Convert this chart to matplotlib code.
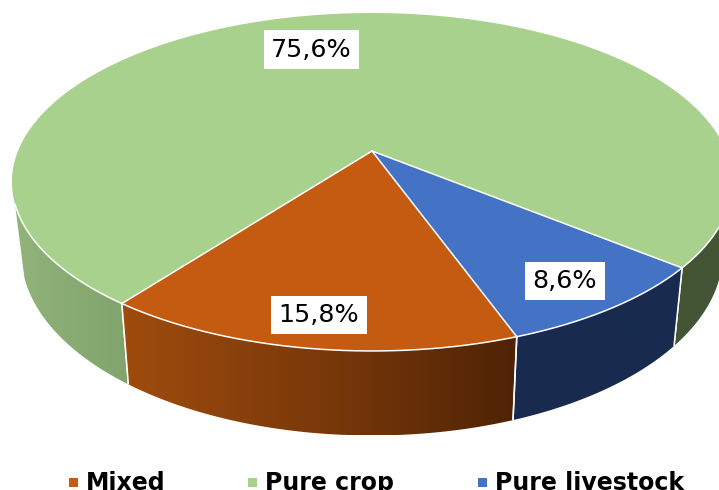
import numpy as np
import matplotlib
matplotlib.use('Agg')
import matplotlib.pyplot as plt
from matplotlib.colors import LinearSegmentedColormap
from matplotlib.patches import Polygon, Rectangle

# slice data, in the order the slices go round
categories = ['Mixed', 'Pure livestock', 'Pure crop']
shares = [15.8, 8.6, 75.6]
share_labels = ['15,8%', '8,6%', '75,6%']
legend_order = ['Mixed', 'Pure crop', 'Pure livestock']

top_colors = {'Mixed': '#c55a11', 'Pure crop': '#a9d18e', 'Pure livestock': '#4472c4'}
# side shading, left to right
side_colors = {'Mixed': ['#9f4c0d', '#7a390a', '#4f2305'],
               'Pure crop': ['#92b37b', '#80a46b'],
               'Pure livestock': ['#182b4f', '#182b4f']}
right_green = '#435535'

start_angle = 232.9  # first slice, degrees counter clockwise
wall_left = 198.0    # where the wall comes out from under the top
W, H = 719, 490

# perspective of the pie, all in pixels
cx, cy = 372.0, 151.0
X_SCALE = 354.0
Y_A, Y_C = -135.6, 0.1834
DEPTH = 69.0
BOTTOM_SHRINK = 0.974


def project(theta, bottom=False):
    u, v = np.cos(theta), np.sin(theta)
    d = Y_C * v + 1
    x = cx + X_SCALE * u / d
    y = (Y_A * v + cy) / d
    if bottom:
        x = cx + BOTTOM_SHRINK * (x - cx)
        y = y + DEPTH / d
    return x, y


def arc(a0, a1, bottom=False):
    t = np.radians(np.linspace(a0, a1, 200))
    return np.column_stack(project(t, bottom))


def draw_side(ax, a0, a1, colors, z, seams=(True, True)):
    top = arc(a0, a1)
    bot = arc(a0, a1, bottom=True)[::-1]
    verts = np.vstack([top, bot])
    cmap = LinearSegmentedColormap.from_list('side', colors)
    x0, x1 = verts[:, 0].min(), verts[:, 0].max()
    y0, y1 = verts[:, 1].min(), verts[:, 1].max()
    img = ax.imshow(np.linspace(0, 1, 256).reshape(1, -1), cmap=cmap, aspect='auto',
                    extent=(x0, x1, y1, y0), zorder=z, interpolation='bilinear')
    clip = Polygon(verts, closed=True, transform=ax.transData)
    img.set_clip_path(clip)
    # white seams at the ends of the wall
    for a, show in zip((a0, a1), seams):
        if not show:
            continue
        p, q = arc(a, a)[0], arc(a, a, bottom=True)[0]
        ax.plot([p[0], q[0]], [p[1], q[1]], color='white', lw=1.1, zorder=z + 0.5,
                solid_capstyle='butt')


fig = plt.figure(figsize=(W / 100, H / 100), dpi=100)
ax = fig.add_axes([0, 0, 1, 1])

# slice boundaries from the shares
edges = start_angle + np.cumsum([0] + shares) * 3.6
apex = (cx, cy)

for i, name in enumerate(categories):
    a0, a1 = edges[i], edges[i + 1]
    if name == 'Pure crop':
        # wall only shows at the front: left and right of the other slices
        draw_side(ax, wall_left, a1 - 360 if a1 > 360 + wall_left else a1, side_colors[name], 1,
                  seams=(False, True))
        draw_side(ax, a0, 360, [right_green, right_green], 1, seams=(True, False))
    else:
        draw_side(ax, a0, a1, side_colors[name], 2)

for i, name in enumerate(categories):
    pts = np.vstack([[apex], arc(edges[i], edges[i + 1]), [apex]])
    ax.add_patch(Polygon(pts, closed=True, facecolor=top_colors[name], edgecolor='none', zorder=3))

# white lines on the front rim and between slices
for i, name in enumerate(categories):
    a0, a1 = edges[i], edges[i + 1]
    p = arc(a0, a0)[0]
    ax.plot([cx, p[0]], [cy, p[1]], color='white', lw=1.1, zorder=4)
rim = arc(wall_left, 360)
ax.plot(rim[:, 0], rim[:, 1], color='white', lw=1.1, zorder=4)

# value labels
label_pos = {'Mixed': (319, 315), 'Pure livestock': (565, 281), 'Pure crop': (311.5, 49.5)}
for name, txt in zip(categories, share_labels):
    ax.text(*label_pos[name], txt, fontsize=18.3, color='black', ha='center', va='center',
            family='DejaVu Sans', zorder=6,
            bbox=dict(facecolor='white', edgecolor='none', pad=5.3))

# legend, runs off the bottom in the original
legend_x = {'Mixed': 69, 'Pure crop': 248, 'Pure livestock': 478}
for name in legend_order:
    ax.add_patch(Rectangle((legend_x[name], 478), 8.5, 8.5, facecolor=top_colors[name],
                           edgecolor='none', zorder=5))
    ax.text(legend_x[name] + 17, 490, name, fontsize=17.05, fontweight='bold', color='black',
            ha='left', va='baseline', family='DejaVu Sans', zorder=5)

ax.set_xlim(0, W)
ax.set_ylim(H, 0)
ax.axis('off')

fig.savefig('out.png', dpi=100)
